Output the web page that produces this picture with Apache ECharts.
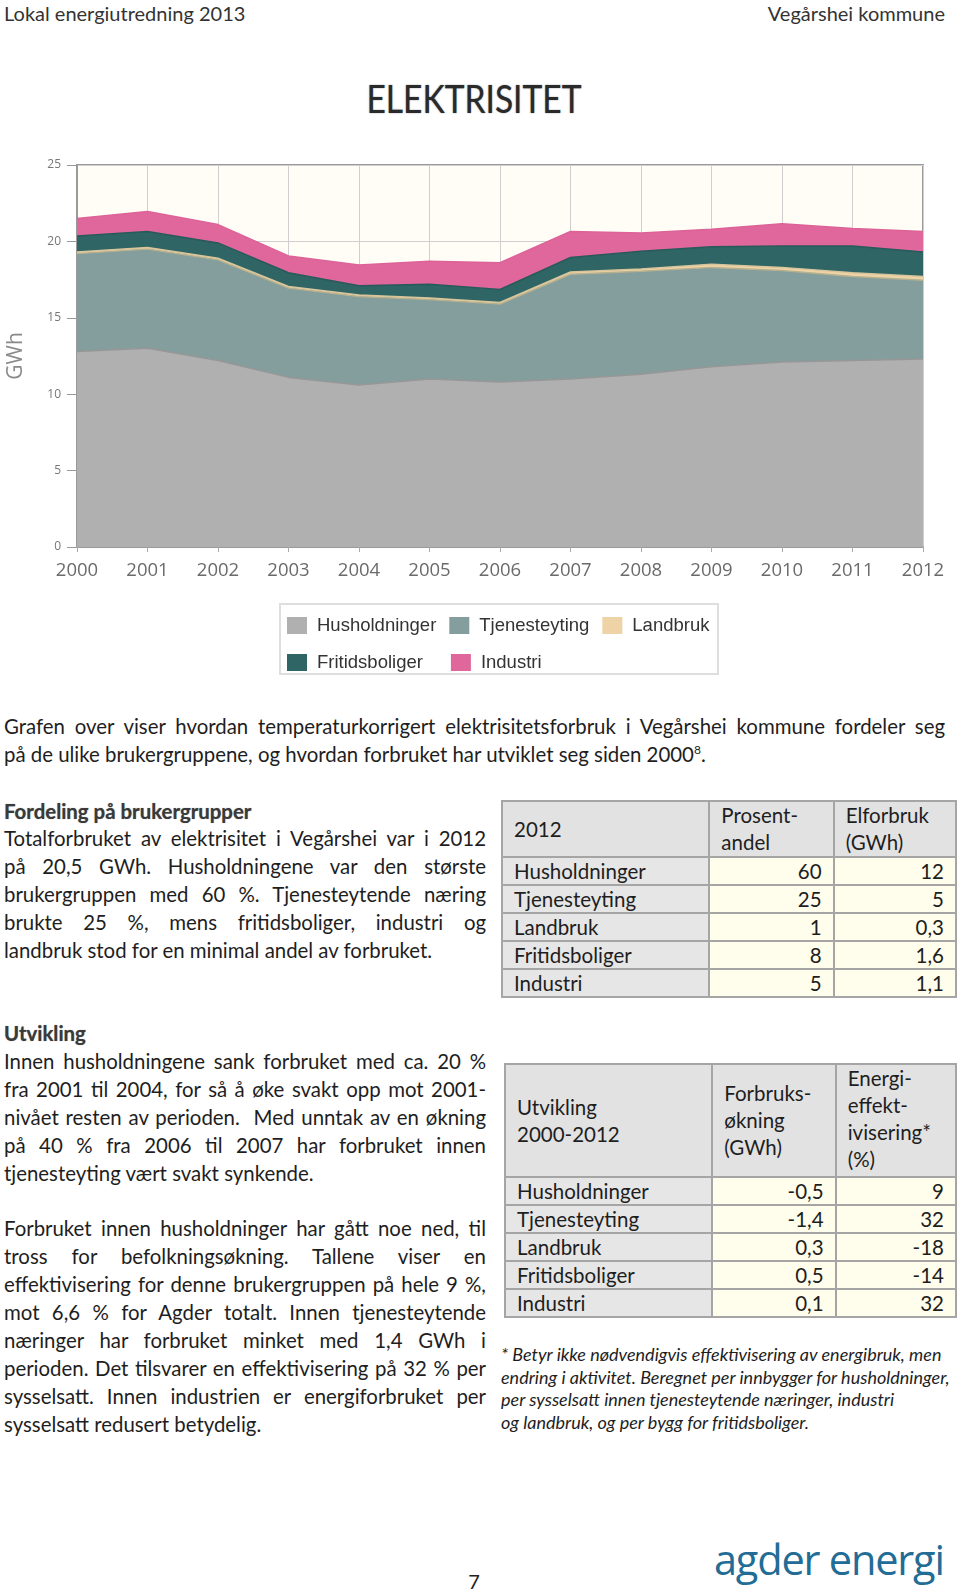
<!DOCTYPE html>
<html><head><meta charset="utf-8">
<script src="https://cdn.jsdelivr.net/npm/echarts@6/dist/echarts.min.js"></script>
<style>
html,body{margin:0;padding:0;background:#fff;}
body{width:960px;height:1593px;position:relative;overflow:hidden;font-family:Lato,"Open Sans",sans-serif;color:#1e1e1e;}
.abs{position:absolute;}
.ln{height:28px;line-height:28px;font-size:20.4px;white-space:nowrap;text-align:justify;text-align-last:justify;}
.ln.last{text-align-last:left;}
.hd{font-size:20.4px;line-height:28px;font-weight:700;color:#3a3a3a;text-shadow:0 0 1px #888;}
table{border-collapse:collapse;position:absolute;font-size:20.5px;color:#1e1e1e;}
td{border:2px solid #a5a5a5;padding:0 11px;height:26px;line-height:26px;}
td.lab{background:#e6e6e6;text-align:left;}
td.val{background:#fffdeb;text-align:right;}
td.h{background:#e2e2e2;line-height:27px;}
.fn{font-style:italic;font-size:18px;line-height:22.5px;white-space:nowrap;}
</style></head>
<body>
<div class="abs" style="left:4px;top:0;font-size:20px;line-height:26px;color:#333;">Lokal energiutredning 2013</div>
<div class="abs" style="right:15px;top:0;font-size:20px;line-height:26px;color:#333;">Vegårshei kommune</div>
<div class="abs" style="left:0;width:948px;top:74px;text-align:center;font-size:39px;line-height:48px;color:#2a2a2a;text-shadow:0 0 1.5px #777;"><span style="display:inline-block;transform:scaleX(0.86);">ELEKTRISITET</span></div>

<div id="chart" class="abs" style="left:0;top:0;width:960px;height:700px;"></div>

<div class="abs" style="left:4px;top:712px;width:941px;">
<div class="ln">Grafen over viser hvordan temperaturkorrigert elektrisitetsforbruk i Vegårshei kommune fordeler seg</div>
<div class="ln last">på de ulike brukergruppene, og hvordan forbruket har utviklet seg siden 2000<sup style="font-size:12px;line-height:0;">8</sup>.</div>
</div>

<div class="abs hd" style="left:4px;top:797px;">Fordeling på brukergrupper</div>
<div class="abs" style="left:4px;top:824px;width:482px;">
<div class="ln">Totalforbruket av elektrisitet i Vegårshei var i 2012</div>
<div class="ln">på 20,5 GWh. Husholdningene var den største</div>
<div class="ln">brukergruppen med 60 %. Tjenesteytende næring</div>
<div class="ln">brukte 25 %, mens fritidsboliger, industri og</div>
<div class="ln last">landbruk stod for en minimal andel av forbruket.</div>
</div>

<div class="abs hd" style="left:4px;top:1019px;">Utvikling</div>
<div class="abs" style="left:4px;top:1047px;width:482px;">
<div class="ln">Innen husholdningene sank forbruket med ca. 20 %</div>
<div class="ln">fra 2001 til 2004, for så å øke svakt opp mot 2001-</div>
<div class="ln">nivået resten av perioden.&nbsp; Med unntak av en økning</div>
<div class="ln">på 40 % fra 2006 til 2007 har forbruket innen</div>
<div class="ln last">tjenesteyting vært svakt synkende.</div>
</div>

<div class="abs" style="left:4px;top:1214px;width:482px;">
<div class="ln">Forbruket innen husholdninger har gått noe ned, til</div>
<div class="ln">tross for befolkningsøkning. Tallene viser en</div>
<div class="ln">effektivisering for denne brukergruppen på hele 9 %,</div>
<div class="ln">mot 6,6 % for Agder totalt. Innen tjenesteytende</div>
<div class="ln">næringer har forbruket minket med 1,4 GWh i</div>
<div class="ln">perioden. Det tilsvarer en effektivisering på 32 % per</div>
<div class="ln">sysselsatt. Innen industrien er energiforbruket per</div>
<div class="ln last">sysselsatt redusert betydelig.</div>
</div>

<table id="t1" style="left:501px;top:800px;width:456px;"></table>
<table id="t2" style="left:504px;top:1063px;width:453px;"></table>

<div class="abs fn" style="left:501px;top:1343px;">
<div>* Betyr ikke nødvendigvis effektivisering av energibruk, men</div>
<div>endring i aktivitet. Beregnet per innbygger for husholdninger,</div>
<div>per sysselsatt innen tjenesteytende næringer, industri</div>
<div>og landbruk, og per bygg for fritidsboliger.</div>
</div>

<div class="abs" style="left:0;width:948px;top:1568px;text-align:center;font-size:20px;line-height:26px;color:#222;">7</div>
<div class="abs" style="left:714px;top:1534px;font-family:'Open Sans',sans-serif;font-size:41.5px;line-height:50px;color:#226c95;letter-spacing:-1.2px;">agder energi</div>

<script>
// ---- chart data ----
const years = ['2000','2001','2002','2003','2004','2005','2006','2007','2008','2009','2010','2011','2012'];
const husholdninger = [12.8, 13.0, 12.2, 11.1, 10.6, 11.0, 10.8, 11.0, 11.3, 11.8, 12.1, 12.2, 12.3];
const tjenesteyting = [6.4, 6.5, 6.6, 5.85, 5.8, 5.2, 5.1, 6.85, 6.75, 6.5, 6.0, 5.5, 5.15];
const landbruk = [0.1, 0.1, 0.1, 0.1, 0.1, 0.1, 0.1, 0.15, 0.15, 0.2, 0.2, 0.25, 0.25];
const fritidsboliger = [1.05, 1.05, 1.0, 0.9, 0.6, 0.9, 0.85, 0.95, 1.15, 1.15, 1.4, 1.75, 1.6];
const industri = [1.15, 1.3, 1.2, 1.1, 1.35, 1.5, 1.75, 1.7, 1.2, 1.15, 1.45, 1.15, 1.35];
const yTicks = [0, 5, 10, 15, 20, 25];

// ---- table data ----
const groups = ['Husholdninger','Tjenesteyting','Landbruk','Fritidsboliger','Industri'];
const share2012 = ['60','25','1','8','5'];
const use2012 = ['12','5','0,3','1,6','1,1'];
const change = ['-0,5','-1,4','0,3','0,5','0,1'];
const efficiency = ['9','32','-18','-14','32'];

function buildTable(id, head, colA, colB, widths, headHeight) {
  let h = '<tr>' + head.map((t, i) => '<td class="h" style="width:' + (widths[i]-26) + 'px;height:' + headHeight + 'px;' + (i === 0 ? 'vertical-align:middle;' : 'vertical-align:top;') + '">' + t + '</td>').join('') + '</tr>';
  groups.forEach((g, i) => {
    h += '<tr><td class="lab">' + g + '</td><td class="val">' + colA[i] + '</td><td class="val">' + colB[i] + '</td></tr>';
  });
  document.getElementById(id).innerHTML = h;
}
buildTable('t1', ['2012', 'Prosent-<br>andel', 'Elforbruk<br>(GWh)'], share2012, use2012, [207, 125, 123], 54);
buildTable('t2', ['Utvikling<br>2000-2012', '<div style="display:flex;align-items:center;height:111px;">Forbruks-<br>økning<br>(GWh)</div>', 'Energi-<br>effekt-<br>ivisering*<br>(%)'], change, efficiency, [207, 124, 121], 111);

const colors = {
  hus: '#b0b0b0', tje: '#849d9d', lan: '#edd3a6', fri: '#2f6565', ind: '#e0679c'
};
function areaSeries(name, data, color, line) {
  return {
    name: name, type: 'line', stack: 'total', data: data, symbol: 'none',
    lineStyle: { color: line, width: 1.5 },
    itemStyle: { color: color },
    areaStyle: { color: color, opacity: 1 },
    emphasis: { disabled: true }
  };
}
const legendText = { fontSize: 18.5, color: '#333', fontFamily: 'Liberation Sans', padding: [0, 0, 0, 5] };
const chart = echarts.init(document.getElementById('chart'), null, { renderer: 'canvas' });
chart.setOption({
  animation: false,
  grid: { left: 77, right: 37, top: 165, bottom: 153, containLabel: false, outerBoundsMode: 'none', show: true, backgroundColor: '#fffdf6', borderColor: '#9a9a9a', borderWidth: 2 },
  xAxis: {
    type: 'category', data: years, boundaryGap: false,
    axisLine: { lineStyle: { color: '#9a9a9a', width: 2 } },
    axisTick: { show: true, length: 5, lineStyle: { color: '#aaa' }, alignWithLabel: true },
    axisLabel: { color: '#6a6a6a', fontSize: 18.5, fontFamily: 'Open Sans', margin: 14 },
    splitLine: { show: true, lineStyle: { color: '#cfcfcf', width: 1 } }
  },
  yAxis: {
    type: 'value', min: yTicks[0], max: yTicks[yTicks.length - 1], interval: 5,
    name: 'GWh', nameLocation: 'middle', nameGap: 50,
    nameTextStyle: { color: '#8a8a8a', fontSize: 21, fontFamily: 'Open Sans' },
    axisLine: { show: true, lineStyle: { color: '#9a9a9a', width: 2 } },
    axisTick: { show: true, length: 10, lineStyle: { color: '#9a9a9a' } },
    axisLabel: { color: '#777', fontSize: 12, fontFamily: 'Open Sans', margin: 16 },
    splitLine: { show: true, lineStyle: { color: '#cfcfcf', width: 1 } }
  },
  legend: [
    { data: ['Husholdninger', 'Tjenesteyting', 'Landbruk'], left: 282, top: 611, itemWidth: 20, itemHeight: 17, itemGap: 13,
      icon: 'rect', textStyle: legendText, selectedMode: false },
    { data: ['Fritidsboliger', 'Industri'], left: 282, top: 648, itemWidth: 20, itemHeight: 17, itemGap: 28,
      icon: 'rect', textStyle: legendText, selectedMode: false }
  ],
  graphic: [
    { type: 'rect', shape: { x: 280, y: 604, width: 438, height: 70 }, style: { fill: 'none', stroke: '#dedede', lineWidth: 2 }, silent: true }
  ],
  series: [
    areaSeries('Husholdninger', husholdninger, colors.hus, '#979797'),
    areaSeries('Tjenesteyting', tjenesteyting, colors.tje, '#b5b08e'),
    areaSeries('Landbruk', landbruk, colors.lan, '#d9c59c'),
    areaSeries('Fritidsboliger', fritidsboliger, colors.fri, '#285a5a'),
    areaSeries('Industri', industri, colors.ind, '#dc6297')
  ]
});
</script>
</body></html>
